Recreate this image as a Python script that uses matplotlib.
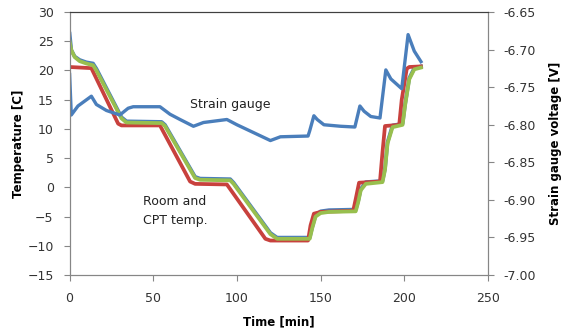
import numpy as np
import matplotlib
matplotlib.use("Agg")
import matplotlib.pyplot as plt

# room / CPT temperatures [C] vs time [min]
t_red = [0, 13, 29, 31, 54, 72, 75, 94, 117, 120, 142.5, 144, 146, 150, 169.5,
         171, 173, 185.5, 187, 188.5, 197, 198.5, 201.5, 203, 210]
temp_red = [20.6, 20.4, 10.9, 10.6, 10.6, 1.0, 0.6, 0.5, -8.8, -9.1, -9.1, -6.5, -4.5,
            -4.2, -4.0, -2.0, 0.8, 1.0, 6.0, 10.5, 10.7, 15.0, 20.3, 20.6, 20.7]

t_green = [0, 1, 3, 6, 10, 14, 16, 31, 34, 55, 57, 75, 78, 96, 98, 120, 124, 143.5,
           145, 147, 150, 155, 171, 172.5, 174, 177, 187, 188.5, 190, 193, 199, 200.5,
           203, 206, 210]
temp_green = [25.0, 23.5, 22.3, 21.6, 21.2, 20.9, 20.0, 11.8, 11.1, 11.0, 10.5, 1.6, 1.3,
              1.2, 0.6, -8.0, -8.8, -8.8, -7.0, -5.0, -4.4, -4.2, -4.1, -2.5, -0.5, 0.6,
              0.9, 3.0, 7.5, 10.3, 10.7, 14.0, 18.5, 20.2, 20.5]

t_blue = [0, 1, 3, 6, 10, 14, 16, 31, 34, 55, 57, 75, 78, 96, 98, 120, 124, 143.5,
          145, 147, 150, 155, 171, 172.5, 174, 177, 187, 188.5, 190, 193, 199, 200.5,
          203, 206, 210]
temp_blue = [26.3, 23.5, 22.4, 21.8, 21.4, 21.2, 20.3, 12.0, 11.3, 11.2, 10.7, 1.8, 1.5,
             1.4, 0.8, -7.8, -8.6, -8.6, -6.8, -4.8, -4.1, -3.9, -3.8, -2.3, -0.3, 0.9,
             1.1, 3.2, 7.7, 10.6, 10.9, 14.2, 18.7, 20.4, 20.7]

# strain gauge voltage [V]
t_sg = [0, 1, 5, 13, 16, 22, 30, 35, 38, 54, 60, 66, 74, 80, 94, 100, 120, 126, 142.5,
        143.5, 146, 148, 152, 162, 170.5, 173.5, 176, 180, 185.5, 189, 192, 198.5,
        202.3, 206, 210]
v_sg = [-6.733, -6.787, -6.775, -6.762, -6.773, -6.781, -6.787, -6.778, -6.776, -6.776,
        -6.786, -6.793, -6.802, -6.797, -6.793, -6.800, -6.821, -6.816, -6.815, -6.808,
        -6.788, -6.793, -6.800, -6.802, -6.803, -6.775, -6.782, -6.789, -6.791, -6.727,
        -6.739, -6.752, -6.680, -6.702, -6.716]

c_blue = "#4a7ebb"
c_red = "#c8413d"
c_green = "#98bf4e"
grey = "#868686"

plt.rcParams["font.family"] = "DejaVu Sans"

fig = plt.figure(figsize=(5.66, 3.35), dpi=100)
ax = fig.add_axes([0.123, 0.179, 0.739, 0.785])
ax2 = ax.twinx()

ax.plot(t_blue, temp_blue, color=c_blue, lw=2.7, solid_joinstyle="round")
ax.plot(t_red, temp_red, color=c_red, lw=2.7, solid_joinstyle="round")
ax.plot(t_green, temp_green, color=c_green, lw=2.7, solid_joinstyle="round")
ax2.plot(t_sg, v_sg, color=c_blue, lw=2.4, solid_joinstyle="round")

ax.set_xlim(0, 250)
ax.set_ylim(-15, 30)
ax2.set_ylim(-7.00, -6.65)
ax.set_xticks(np.arange(0, 251, 50))
ax.set_yticks(np.arange(-15, 31, 5))
ax2.set_yticks(np.arange(-7.00, -6.649, 0.05))
ax2.set_yticklabels(["%.2f" % v for v in np.arange(-7.00, -6.649, 0.05)])

for a in (ax, ax2):
    for s in ("left", "right", "bottom"):
        a.spines[s].set_color(grey)
    a.spines["top"].set_color("#404040")
    a.tick_params(colors=grey, labelcolor="#333333", labelsize=9, length=4.5, width=0.8)
ax.tick_params(axis="y", pad=7)
ax.tick_params(axis="x", pad=8)
ax2.tick_params(axis="y", pad=7)

ax.text(72, 14.1, "Strain gauge", fontsize=9, va="center", color="#222222")
ax.text(44, -4.1, "Room and\nCPT temp.", fontsize=9, va="center", linespacing=1.6,
        color="#222222")

fig.text(0.032, 0.571, "Temperature [C]", rotation=90, fontsize=8.5, fontweight="bold",
         ha="center", va="center")
fig.text(0.981, 0.571, "Strain gauge voltage [V]", rotation=90, fontsize=8.5,
         fontweight="bold", ha="center", va="center")
fig.text(0.492, 0.04, "Time [min]", fontsize=8.5, fontweight="bold", ha="center",
         va="center")

fig.savefig("out.png", dpi=100)
